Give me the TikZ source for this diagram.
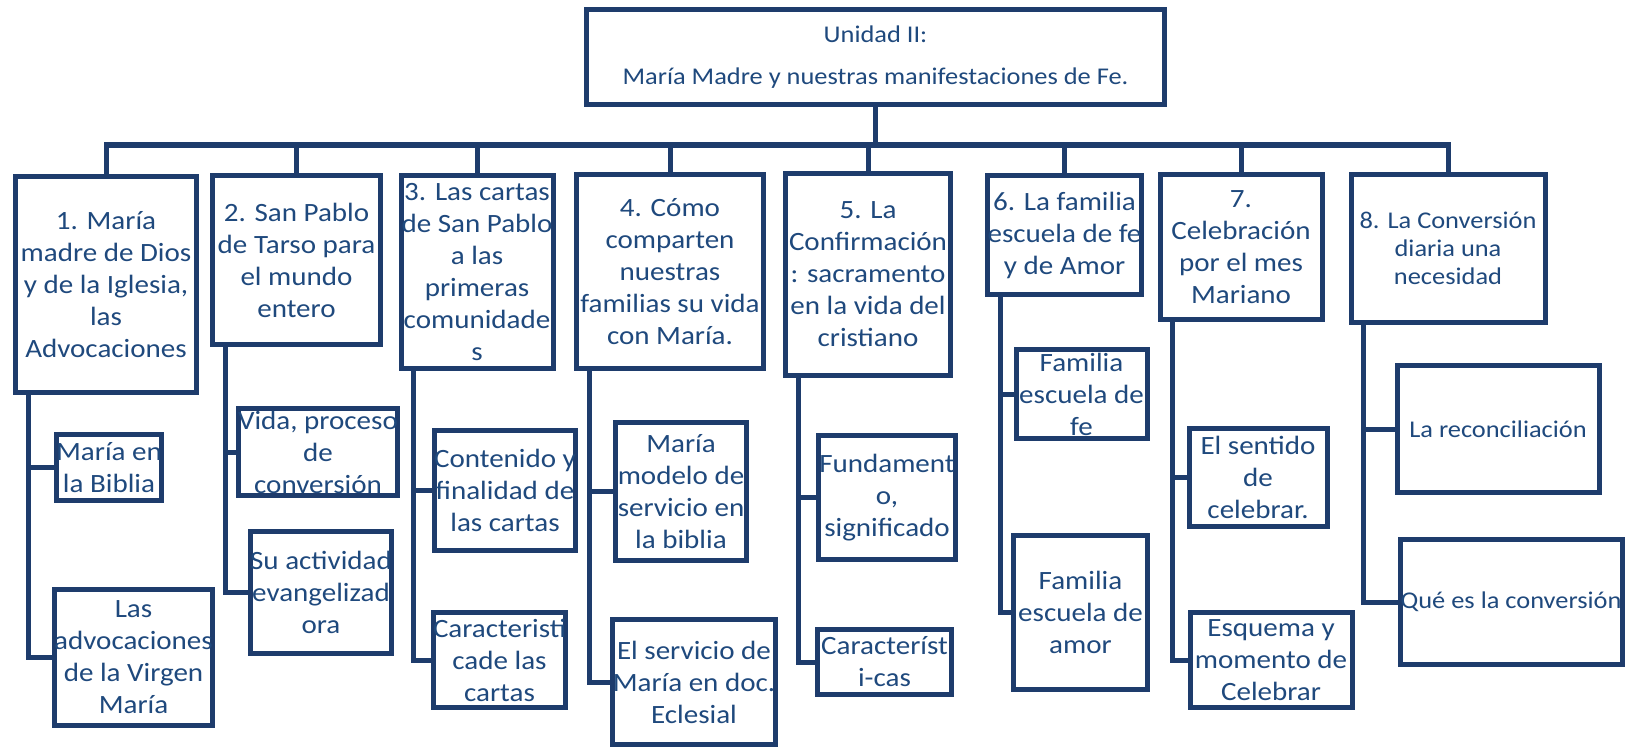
\documentclass[tikz,border=0pt]{standalone}
\usepackage{fontspec}
\setmainfont{Carlito}[FakeStretch=1.1]
\usepackage{tikz}
\usetikzlibrary{positioning}
\definecolor{navy}{RGB}{30,60,108}
\definecolor{navytext}{RGB}{31,73,125}

\begin{document}
\begin{tikzpicture}[x=0.5pt,y=-0.5pt,
  box/.style={draw=navy,fill=white,line width=2.5pt,inner sep=0pt,align=center,text=navytext,
    font=\fontsize{13.2}{16}\selectfont},
  small/.style={font=\fontsize{12}{14}\selectfont},
  sz/.style 2 args={minimum width=#1*0.5pt,minimum height=#2*0.5pt},
  link/.style={draw=navy,line width=2.5pt}]
  \useasboundingbox (0,0) rectangle (1627,749);
  % titulo
  \node[box,sz={578}{95},font=\fontsize{12}{21}\selectfont] (top) at (875.5,57)
    {Unidad II:\\María Madre y nuestras manifestaciones de Fe.};
  \coordinate (bus) at (0,145);
  % temas
  \node[box,sz={181}{216}] (t1) at (106,284.5) {1. María\\madre de Dios\\y de la Iglesia,\\las\\Advocaciones};
  \node[box,sz={168}{169}] (t2) at (296.5,260) {2. San Pablo\\de Tarso para\\el mundo\\entero};
  \node[box,sz={152}{193}] (t3) at (477,272) {3. Las cartas\\de San Pablo\\a las\\primeras\\comunidade\\s};
  \node[box,sz={187}{194}] (t4) at (670,271.5) {4. Cómo\\comparten\\nuestras\\familias su vida\\con María.};
  \node[box,sz={165}{202}] (t5) at (868,274.5) {5. La\\Confirmación\\: sacramento\\en la vida del\\cristiano};
  \node[box,sz={154}{119}] (t6) at (1064.5,235) {6. La familia\\escuela de fe\\y de Amor};
  \node[box,sz={162}{145}] (t7) at (1241,247) {7.\\Celebración\\por el mes\\Mariano};
  \node[box,small,sz={194}{148}] (t8) at (1448,248.5) {8. La Conversión\\diaria una\\necesidad};
  % subtemas
  \node[box,sz={103}{66}] (s1a) at (109,467.5) {María en\\la Biblia};
  \node[box,sz={154}{136}] (s1b) at (133.5,657.5) {Las\\advocaciones\\de la Virgen\\María};
  \node[box,sz={148}{87}] (s2a) at (318,452) {Vida, proceso\\de\\conversión};
  \node[box,sz={138}{122}] (s2b) at (321,592.5) {Su actividad\\evangelizad\\ora};
  \node[box,sz={139}{120}] (s3a) at (505,490.5) {Contenido y\\finalidad de\\las cartas};
  \node[box,sz={128}{95}] (s3b) at (499.5,660) {Caracteristi\\cade las\\cartas};
  \node[box,sz={131}{138}] (s4a) at (681,491.5) {María\\modelo de\\servicio en\\la biblia};
  \node[box,sz={149}{125}] (s4b) at (694,682) {El servicio de\\María en doc.\\Eclesial};
  \node[box,sz={137}{124}] (s5a) at (887,497.5) {Fundament\\o,\\significado};
  \node[box,sz={134}{65}] (s5b) at (884.5,662) {Característ\\i-cas};
  \node[box,sz={131}{89}] (s6a) at (1081.5,394) {Familia\\escuela de\\fe};
  \node[box,sz={134}{154}] (s6b) at (1080.5,612.5) {Familia\\escuela de\\amor};
  \node[box,sz={138}{98}] (s7a) at (1258,477.5) {El sentido\\de\\celebrar.};
  \node[box,sz={162}{95}] (s7b) at (1271,660) {Esquema y\\momento de\\Celebrar};
  \node[box,small,sz={202}{127}] (s8a) at (1498,429) {La reconciliación};
  \node[box,small,sz={222}{125}] (s8b) at (1511,602) {Qué es la conversión};
  % conectores
  \foreach \t in {t1,t2,t3,t4,t5,t6,t7,t8}{\draw[link] (top.south) |- (\t.north |- bus) -- (\t.north);}
  \foreach \t in {1,...,8}{
    \draw[link] ([xshift=7.5pt]t\t.south west) |- (s\t a.west);
    \draw[link] ([xshift=7.5pt]t\t.south west) |- (s\t b.west);}
\end{tikzpicture}
\end{document}
